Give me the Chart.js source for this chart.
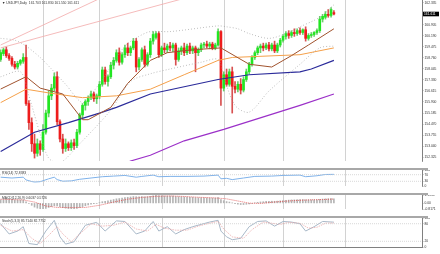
<!DOCTYPE html>
<html><head><meta charset="utf-8">
<script src="https://cdn.jsdelivr.net/npm/chart.js@4.4.1/dist/chart.umd.min.js"></script>
<style>
html,body{margin:0;padding:0;background:#fff;}
body{width:440px;height:254px;position:relative;overflow:hidden;}
canvas{position:absolute;left:0;display:block;}
.sep{position:absolute;left:0;width:428px;height:2px;background:#a8a8a8;}
</style></head><body>
<canvas id="cMain" width="440" height="168" style="top:0"></canvas>
<div class="sep" style="top:168px"></div>
<canvas id="cRsi" width="440" height="23" style="top:170px"></canvas>
<div class="sep" style="top:193px"></div>
<canvas id="cMacd" width="440" height="21" style="top:195px"></canvas>
<div class="sep" style="top:216px"></div>
<canvas id="cSto" width="440" height="36" style="top:218px"></canvas>
<script>
// ---------- data ----------
const titleText = "\u25BC USDJPY,Daily  161.703 161.830 161.550 161.611";
const xTickBars = [0,8,16,24,32,40,48,56,64,72,80,88,96,104,112];
const xTickLabels = ["12 Jan 2026","22 Jan 2026","3 Feb 2026","13 Feb 2026","25 Feb 2026","9 Mar 2026","19 Mar 2026","31 Mar 2026","10 Apr 2026","22 Apr 2026","4 May 2026","14 May 2026","26 May 2026","5 Jun 2026","17 Jun 2026"];
const monthStartBars = [15,35,57,79,100,122];
const priceTicks = [162.335,161.620,160.905,160.190,159.475,158.760,158.045,157.330,156.615,155.900,155.185,154.470,153.755,153.040,152.325];

const open = [158.66,159.04,159.29,158.91,158.73,158.35,158.17,158.41,158.54,158.79,
155.80,154.56,153.19,152.57,153.19,152.82,153.94,155.18,156.30,156.80,
157.54,154.62,153.50,152.88,153.19,152.94,153.25,153.07,153.94,155.06,
155.68,155.93,156.18,156.42,156.11,156.30,157.05,157.98,157.23,157.54,
158.29,158.60,159.10,158.48,158.97,159.41,159.10,159.41,159.85,158.17,
158.66,159.29,158.35,158.97,159.85,160.09,160.34,158.97,159.41,159.29,
159.53,159.41,159.60,158.66,159.22,159.41,159.10,159.53,159.22,159.41,
159.10,159.29,159.60,159.66,159.53,159.66,159.41,159.60,160.47,156.80,
157.67,157.05,157.86,156.92,156.73,157.05,156.67,157.36,157.86,158.35,
158.79,159.10,159.41,159.53,159.41,159.60,159.35,159.60,159.22,159.60,
159.91,160.16,160.34,160.22,160.41,160.34,160.53,160.41,160.59,160.03,
160.22,160.28,160.41,160.53,161.28,161.40,161.59,161.52,161.703];
const high = [159.29,159.41,159.47,159.04,158.85,158.54,158.54,158.66,159.04,159.60,
155.99,154.87,153.81,153.50,153.38,154.43,155.37,156.61,157.05,157.79,
157.86,154.75,153.81,153.50,153.31,153.44,153.50,154.12,155.18,155.80,
156.05,156.30,156.61,156.55,156.42,157.23,158.17,158.17,157.67,158.48,
158.79,159.29,159.41,159.10,159.60,159.72,159.53,160.03,160.03,158.79,
159.41,159.53,159.10,160.03,160.47,160.47,160.47,159.53,159.72,159.66,
159.78,159.72,159.72,159.41,159.53,159.72,159.66,159.72,159.53,159.53,
159.41,159.72,159.78,159.85,159.78,159.78,159.72,160.65,160.53,157.86,
158.04,158.04,158.17,157.23,157.23,157.42,157.54,158.04,158.48,158.91,
159.22,159.53,159.66,159.72,159.72,159.78,159.72,159.85,159.72,160.03,
160.28,160.47,160.53,160.53,160.65,160.65,160.72,160.65,160.78,160.34,
160.41,160.47,160.65,161.46,161.59,161.77,161.90,162.02,161.83];
const low = [158.54,158.91,158.79,158.60,158.23,158.04,158.04,158.29,158.41,155.68,
154.12,152.69,152.26,152.38,152.44,152.69,153.81,154.93,156.05,156.61,
154.43,153.31,152.57,152.69,152.75,152.75,152.82,152.94,153.81,154.87,
155.37,155.68,156.05,155.93,155.80,156.11,156.92,157.05,156.92,157.42,
158.04,158.48,158.29,158.35,158.79,158.91,158.91,159.29,157.86,157.98,
158.54,158.17,158.23,158.79,159.66,159.97,158.79,158.85,159.10,159.10,
159.22,159.16,158.29,158.54,158.97,158.91,158.97,159.04,159.04,157.86,
158.91,159.16,159.41,159.41,159.35,159.29,159.29,159.53,155.68,156.61,
156.92,156.92,155.18,156.49,156.55,156.42,156.55,157.23,157.73,158.23,
158.66,158.97,159.10,159.22,159.29,159.22,159.22,159.10,159.10,159.47,
159.78,159.97,160.03,160.09,160.16,160.22,160.28,160.28,159.85,159.91,
160.09,160.16,160.28,160.41,161.09,161.28,161.40,161.40,161.55];
const close = [159.10,159.29,158.91,158.73,158.35,158.17,158.41,158.60,158.79,155.80,
154.56,153.19,152.57,153.19,152.82,153.94,155.18,156.30,156.80,157.54,
154.62,153.50,152.88,153.19,152.94,153.25,153.07,153.94,155.06,155.68,
155.93,156.18,156.42,156.11,156.30,157.05,157.98,157.23,157.54,158.29,
158.60,159.10,158.48,158.97,159.41,159.10,159.41,159.85,158.17,158.66,
159.29,158.35,158.97,159.85,160.28,160.34,158.97,159.41,159.29,159.53,
159.41,159.60,158.66,159.22,159.41,159.10,159.53,159.22,159.41,159.10,
159.29,159.60,159.66,159.53,159.66,159.41,159.60,160.47,156.80,157.67,
157.05,157.86,156.92,156.73,157.05,156.67,157.36,157.86,158.35,158.79,
159.10,159.41,159.53,159.41,159.60,159.35,159.60,159.22,159.60,159.91,
160.16,160.34,160.22,160.41,160.34,160.53,160.41,160.59,160.03,160.22,
160.28,160.41,160.53,161.28,161.46,161.59,161.52,161.90,161.611];

// moving averages and bands read at sample bars
const maFastBars = [0,9,14,22,29,31,39,45,53,59,68,78,88,96,103,109,118];
const maFastVals = [156.74,157.54,156.80,156.42,154.75,154.75,155.55,157.11,158.60,159.10,159.29,159.41,158.35,158.17,158.91,159.60,160.65];
const maMidBars = [0,9,17,29,41,53,65,77,82,106,118];
const maMidVals = [155.86,156.73,156.49,156.18,156.30,156.73,157.67,158.60,158.79,158.97,159.41];
const maSlowBars = [0,12,24,35,41,53,77,88,106,110,118];
const maSlowVals = [152.69,153.94,154.56,155.18,155.55,156.42,157.36,157.67,157.86,158.04,158.60];
const maLongBars = [30,46,53,65,79,106,118];
const maLongVals = [150.60,152.07,152.44,153.38,154.12,155.68,156.42];
const bandUpBars = [0,5,9,14,18,23,29,33,39,44,49,53,60,77,80,84,88,95,101,106,113,118];
const bandUpVals = [160.03,159.91,159.53,158.79,158.04,157.05,155.86,156.61,158.17,159.53,160.16,160.47,160.47,160.84,160.78,160.65,160.34,160.03,160.34,160.78,161.40,162.21];
const bandLoBars = [0,7,10,14,17,21,28,39,46,53,60,71,77,79,83,88,95,106,113,118];
const bandLoVals = [157.54,157.86,156.30,153.81,152.26,151.95,153.19,155.37,157.23,157.73,158.04,158.48,158.66,157.54,155.68,155.24,156.61,158.35,159.41,159.53];
const trendABars = [0,40];
const trendAVals = [159.60,163.04];
const trendBBars = [0,80];
const trendBVals = [159.41,163.37];

const rsiLabel = "RSI(14) 72.8383";
const rsiBars = [0,4,8,9,11,12,14,17,19,20,22,25,28,32,36,40,44,48,50,54,56,60,66,72,77,78,80,82,86,90,96,100,106,108,112,115,118];
const rsiVals = [55,50,55,38,28,25,27,45,55,40,30,32,42,50,58,62,66,55,60,68,58,60,60,62,68,45,48,40,50,60,62,66,68,58,64,72,72.84];

const macdLabel = "MACD(12,26,9) 0.6037 0.5726";
const macdMain = [0.45,0.48,0.50,0.50,0.48,0.45,0.42,0.42,0.43,0.20,
-0.05,-0.30,-0.55,-0.70,-0.8171,-0.80,-0.72,-0.60,-0.48,-0.35,
-0.40,-0.50,-0.62,-0.70,-0.76,-0.78,-0.78,-0.72,-0.60,-0.48,
-0.36,-0.25,-0.15,-0.08,-0.02,0.08,0.20,0.27,0.33,0.42,
0.50,0.60,0.64,0.70,0.78,0.82,0.86,0.92,0.90,0.88,
0.90,0.88,0.90,0.95,1.02,1.1358,1.04,1.02,1.00,0.99,
0.98,0.98,0.92,0.90,0.88,0.85,0.84,0.82,0.80,0.76,
0.74,0.74,0.73,0.72,0.71,0.70,0.70,0.78,0.50,0.35,
0.22,0.15,0.02,-0.08,-0.14,-0.20,-0.20,-0.16,-0.10,-0.02,
0.05,0.12,0.17,0.20,0.24,0.25,0.27,0.26,0.28,0.32,
0.36,0.40,0.42,0.45,0.46,0.48,0.49,0.50,0.47,0.46,
0.46,0.46,0.47,0.53,0.57,0.60,0.61,0.64,0.6037];
const macdSigBars = [0,8,12,16,20,26,30,35,40,45,50,55,60,65,70,76,80,84,88,92,96,100,105,110,114,118];
const macdSigVals = [0.55,0.45,0.15,-0.4,-0.6,-0.62,-0.6,-0.3,0.15,0.55,0.8,0.95,1.0,0.93,0.82,0.73,0.6,0.3,0.0,-0.05,0.12,0.25,0.38,0.46,0.5,0.5726];
const macdTicks = [-0.8171,0,1.1358];

const stoLabel = "Stoch(5,3,3) 85.7140 82.7752";
const stoKBars = [0,3,6,8,10,13,16,19,21,23,26,30,34,37,41,44,48,51,54,56,59,62,65,68,71,74,77,78,80,82,85,88,91,94,97,100,103,106,108,111,114,118];
const stoKVals = [80,45,55,70,12,8,55,92,35,10,18,75,85,55,90,88,45,55,88,55,70,45,60,70,78,86,92,55,35,25,30,70,88,90,72,88,86,80,55,70,88,85.71];
const stoDBars = [0,4,8,11,14,17,20,22,25,28,32,36,40,44,48,52,55,58,62,66,70,74,77,79,82,86,89,93,96,99,102,106,109,112,115,118];
const stoDVals = [75,55,60,30,12,40,70,45,18,45,80,72,75,86,62,55,78,65,58,58,72,82,88,62,35,30,60,86,82,78,85,82,65,68,82,82.78];

// ---------- layout ----------
const FONT = "'Liberation Sans', Arial, sans-serif";
const X_MIN = -0.23, X_MAX = 149.2;
const pts = (b, v) => b.map((x, i) => ({ x, y: v[i] }));

function xScale(show) {
  return {
    type: 'linear', min: X_MIN, max: X_MAX, display: show, offset: false,
    grid: { display: false }, border: { display: show, color: '#808080' },
    afterBuildTicks: s => { s.ticks = xTickBars.map(v => ({ value: v })); },
    afterFit: s => { s.height = 7; s.paddingLeft = 0; s.paddingRight = 0; },
    ticks: { autoSkip: false, maxRotation: 0, minRotation: 0, align: 'start', padding: 1.5,
      font: { family: FONT, size: 2.9 }, color: '#333',
      callback: v => { const k = xTickBars.indexOf(v); return k >= 0 ? xTickLabels[k] : ''; } }
  };
}
function yScale(min, max, ticks, fmt) {
  return {
    position: 'right', min, max,
    afterBuildTicks: s => { s.ticks = ticks.map(v => ({ value: v })); },
    afterFit: s => { s.width = 18; s.paddingTop = 0; s.paddingBottom = 0; },
    grid: { display: true, drawOnChartArea: false, drawTicks: true, tickLength: 1.5, color: '#808080', lineWidth: 0.6 },
    border: { display: true, color: '#808080', width: 1 },
    ticks: { autoSkip: false, padding: 1, font: { family: FONT, size: 3.3 }, color: '#333', callback: fmt }
  };
}
const monthGrid = { id: 'mgrid', beforeDatasetsDraw(ch) {
  const { ctx, chartArea: a } = ch; const x = ch.scales.x;
  ctx.save(); ctx.strokeStyle = '#d2d2d2'; ctx.lineWidth = 1;
  monthStartBars.forEach(b => { const px = Math.round(x.getPixelForValue(b)) + 0.5;
    if (px > a.right) return; ctx.beginPath(); ctx.moveTo(px, a.top); ctx.lineTo(px, a.bottom); ctx.stroke(); });
  ctx.restore(); } };
function panelLabel(text) { return { id: 'plbl', afterDraw(ch) {
  const ctx = ch.ctx; ctx.save(); ctx.font = `3.3px ${FONT}`; ctx.fillStyle = '#333'; ctx.textBaseline = 'top';
  ctx.fillText(text, 2, ch.chartArea.top + 1.2); ctx.restore(); } }; }
const priceBox = { id: 'pbox', afterDraw(ch) {
  const ctx = ch.ctx; const last = close[close.length - 1]; const y = ch.scales.y.getPixelForValue(last);
  ctx.save(); ctx.fillStyle = '#000'; ctx.fillRect(423, y - 2.3, 16, 4.6);
  ctx.fillStyle = '#fff'; ctx.font = `3.3px ${FONT}`; ctx.textBaseline = 'middle'; ctx.fillText(last.toFixed(3), 424, y + 0.2);
  ctx.restore(); } };
const common = { responsive: false, animation: false, devicePixelRatio: 1, events: [],
  layout: { padding: 0 }, plugins: { legend: { display: false }, tooltip: { enabled: false } } };
const line = (data, color, extra) => Object.assign({ type: 'line', data, borderColor: color, borderWidth: 1,
  pointRadius: 0, tension: 0, fill: false, order: 0 }, extra || {});

// ---------- main price chart ----------
const bull = close.map((c, i) => c >= open[i]);
new Chart(document.getElementById('cMain'), {
  type: 'bar',
  data: { datasets: [
    line(pts(trendABars, trendAVals), '#f2aaaa', { borderWidth: 0.8 }),
    line(pts(trendBBars, trendBVals), '#f2aaaa', { borderWidth: 0.8 }),
    line(pts(bandUpBars, bandUpVals), '#9a9a9a', { borderWidth: 0.8, borderDash: [0.8, 2.2], tension: 0.3 }),
    line(pts(bandLoBars, bandLoVals), '#9a9a9a', { borderWidth: 0.8, borderDash: [0.8, 2.2], tension: 0.3 }),
    line(pts(maFastBars, maFastVals), '#a0522d'),
    line(pts(maMidBars, maMidVals), '#f5a04a'),
    line(pts(maSlowBars, maSlowVals), '#2a2a9a', { borderWidth: 1.2 }),
    line(pts(maLongBars, maLongVals), '#9b30c8', { borderWidth: 1.2 }),
    { type: 'bar', data: open.map((o, i) => ({ x: i, y: [o, close[i]] })), backgroundColor: bull.map(b => b ? '#22e622' : '#ee1c1c'),
      barThickness: 2, grouped: false, order: 5 },
    { type: 'bar', data: low.map((l, i) => ({ x: i, y: [l, high[i]] })), backgroundColor: bull.map(b => b ? '#6ccf6c' : '#d85050'),
      barThickness: 1, grouped: false, order: 6 }
  ] },
  options: Object.assign({}, common, { scales: { x: xScale(false), y: yScale(152.07, 162.52, priceTicks, v => v.toFixed(3)) } }),
  plugins: [monthGrid, panelLabel(titleText), priceBox]
});

// ---------- RSI ----------
new Chart(document.getElementById('cRsi'), {
  type: 'line',
  data: { datasets: [
    line([{ x: X_MIN, y: 70 }, { x: X_MAX, y: 70 }], '#c8c8c8', { borderDash: [1, 1], borderWidth: 0.7 }),
    line([{ x: X_MIN, y: 30 }, { x: X_MAX, y: 30 }], '#c8c8c8', { borderDash: [1, 1], borderWidth: 0.7 }),
    line(pts(rsiBars, rsiVals), '#7fb2ea')
  ] },
  options: Object.assign({}, common, { scales: { x: xScale(false), y: yScale(0, 100, [0, 30, 70, 100], v => String(v)) } }),
  plugins: [monthGrid, panelLabel(rsiLabel)]
});

// ---------- MACD ----------
new Chart(document.getElementById('cMacd'), {
  type: 'bar',
  data: { datasets: [
    line(pts(macdSigBars, macdSigVals), '#e04848', { borderDash: [1, 1], borderWidth: 0.8 }),
    { type: 'bar', data: macdMain.map((v, i) => ({ x: i, y: v })), backgroundColor: '#b4b4b4', barThickness: 1, grouped: false, order: 5 }
  ] },
  options: Object.assign({}, common, { scales: { x: xScale(false),
    y: yScale(-0.8171, 1.1358, macdTicks, v => v === 0 ? '0.00' : v.toFixed(4)) } }),
  plugins: [monthGrid, panelLabel(macdLabel)]
});

// ---------- Stochastic ----------
new Chart(document.getElementById('cSto'), {
  type: 'line',
  data: { datasets: [
    line([{ x: X_MIN, y: 80 }, { x: X_MAX, y: 80 }], '#c8c8c8', { borderDash: [1, 1], borderWidth: 0.7 }),
    line([{ x: X_MIN, y: 20 }, { x: X_MAX, y: 20 }], '#c8c8c8', { borderDash: [1, 1], borderWidth: 0.7 }),
    line(pts(stoDBars, stoDVals), '#e8a0a0', { borderDash: [1.5, 1], borderWidth: 0.7 }),
    line(pts(stoKBars, stoKVals), '#a8b8c8')
  ] },
  options: Object.assign({}, common, { scales: { x: xScale(true), y: yScale(0, 100, [0, 20, 80, 100], v => String(v)) } }),
  plugins: [monthGrid, panelLabel(stoLabel)]
});
</script>
</body></html>
